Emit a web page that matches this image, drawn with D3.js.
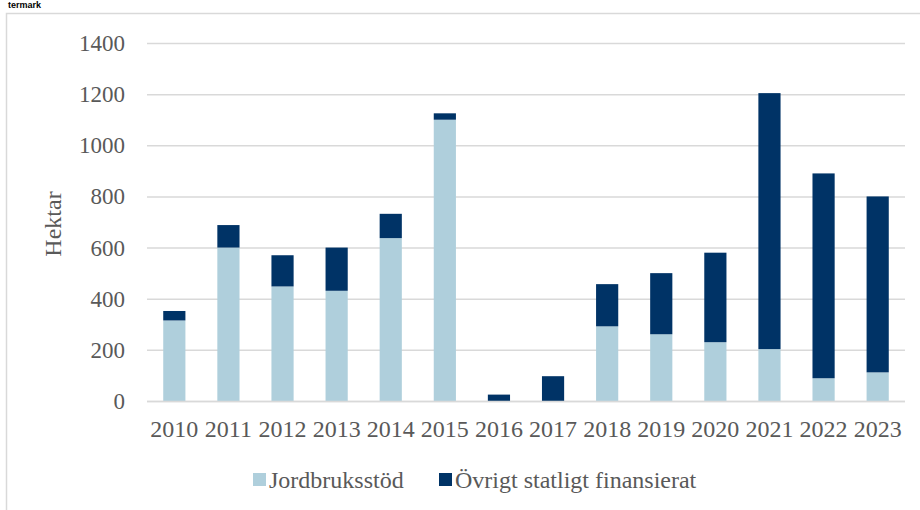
<!DOCTYPE html>
<html>
<head>
<meta charset="utf-8">
<script src="https://cdn.jsdelivr.net/npm/d3@7"></script>
<style>
  body { margin: 0; background: #fff; }
  svg { display: block; }
</style>
</head>
<body>
<svg id="chart"></svg>
<script>
// data
const years = ['2010', '2011', '2012', '2013', '2014', '2015', '2016',
    '2017', '2018', '2019', '2020', '2021', '2022', '2023']
const jordbruksstod = [315, 600, 448, 431, 637, 1100, 0, 0, 292, 261, 230, 203, 89, 112]
const ovrigt = [37, 88, 122, 169, 95, 25, 25, 97, 165, 239, 350, 1001, 801, 688]
const yTicks = [0, 200, 400, 600, 800, 1000, 1200, 1400]
const seriesNames = ['Jordbruksstöd', 'Övrigt statligt finansierat']

const colors = ['#afcfdc', '#003366']
const serif = '"Liberation Serif", "Times New Roman", serif'
const textColor = '#595959'

const svgWidth = 920
const svgHeight = 510
const margin = { top: 43, right: 15, bottom: 109, left: 147 }

const svg = d3.select('#chart')
    .attr('width', svgWidth)
    .attr('height', svgHeight)

// outer frame of the chart area
svg.append('rect')
    .attr('x', 6.5)
    .attr('y', 13.5)
    .attr('width', svgWidth)
    .attr('height', svgHeight)
    .attr('fill', 'none')
    .attr('stroke', '#d9d9d9')
    .attr('stroke-width', 1.5)

// title fragment at the top (cut off in the source)
svg.append('text')
    .attr('x', 8)
    .attr('y', 8)
    .attr('font-family', 'Liberation Sans, Arial, sans-serif')
    .attr('font-weight', 'bold')
    .attr('font-size', '9px')
    .attr('fill', '#000')
    .text('termark')

const table = years.map((y, i) => ({ year: y, a: jordbruksstod[i], b: ovrigt[i] }))
const stacked = d3.stack().keys(['a', 'b'])(table)

const x = d3.scaleBand()
    .domain(years)
    .range([margin.left, svgWidth - margin.right])
    .paddingInner(0.59)
    .paddingOuter(0.3)

const y = d3.scaleLinear()
    .domain([0, 1400])
    .range([svgHeight - margin.bottom, margin.top])

// gridlines
svg.append('g')
    .selectAll('line')
    .data(yTicks)
    .join('line')
    .attr('x1', margin.left)
    .attr('x2', svgWidth - margin.right)
    .attr('y1', d => y(d) + 0.5)
    .attr('y2', d => y(d) + 0.5)
    .attr('stroke', '#d9d9d9')
    .attr('stroke-width', 1.5)

// y tick labels
svg.append('g')
    .selectAll('text')
    .data(yTicks)
    .join('text')
    .attr('x', margin.left - 22)
    .attr('y', d => y(d) + 8)
    .attr('text-anchor', 'end')
    .attr('font-family', serif)
    .attr('font-size', '23px')
    .attr('fill', textColor)
    .text(d => d)

// y axis title
svg.append('text')
    .attr('transform', `translate(${61}, ${224}) rotate(-90)`)
    .attr('text-anchor', 'middle')
    .attr('font-family', serif)
    .attr('font-size', '24px')
    .attr('fill', textColor)
    .text('Hektar')

// bars
svg.append('g')
    .selectAll('g')
    .data(stacked)
    .join('g')
    .attr('fill', (d, i) => colors[i])
    .selectAll('rect')
    .data(d => d)
    .join('rect')
    .attr('x', d => x(d.data.year))
    .attr('width', x.bandwidth())
    .attr('y', d => y(d[1]))
    .attr('height', d => y(d[0]) - y(d[1]))

// baseline on top of bars
svg.append('line')
    .attr('x1', margin.left)
    .attr('x2', svgWidth - margin.right)
    .attr('y1', y(0) + 0.5)
    .attr('y2', y(0) + 0.5)
    .attr('stroke', '#d9d9d9')
    .attr('stroke-width', 1.5)

// x labels
svg.append('g')
    .selectAll('text')
    .data(years)
    .join('text')
    .attr('x', d => x(d) + x.bandwidth() / 2)
    .attr('y', 437)
    .attr('text-anchor', 'middle')
    .attr('font-family', serif)
    .attr('font-size', '24px')
    .attr('fill', textColor)
    .text(d => d)

// legend
const legendX = [253, 439]
const legend = svg.append('g')
    .selectAll('g')
    .data(seriesNames)
    .join('g')
    .attr('transform', (d, i) => `translate(${legendX[i]}, ${488})`)

legend.append('rect')
    .attr('x', 0)
    .attr('y', -15)
    .attr('width', 13)
    .attr('height', 13)
    .attr('fill', (d, i) => colors[i])

legend.append('text')
    .attr('x', 16)
    .attr('y', 0)
    .attr('font-family', serif)
    .attr('font-size', '24px')
    .attr('fill', textColor)
    .text(d => d)
</script>
</body>
</html>
